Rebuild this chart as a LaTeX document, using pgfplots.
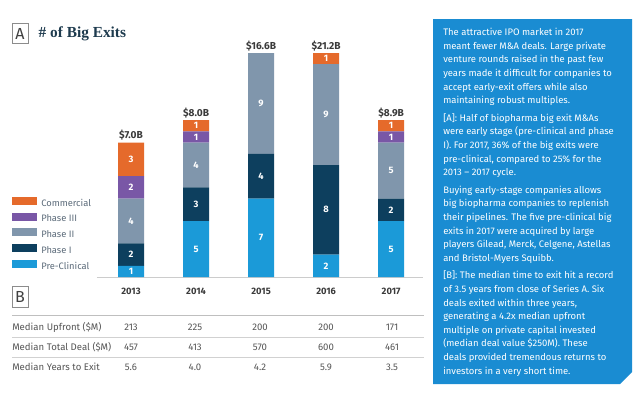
\documentclass[border=0pt]{standalone}
\usepackage{fontspec}
\setmainfont{Fira Sans}
\newfontfamily\titlefont{Liberation Serif}
\usepackage{pgfplots}
\pgfplotsset{compat=1.18}
\definecolor{cCom}{HTML}{E56A2B}
\definecolor{cPthree}{HTML}{7957A6}
\definecolor{cPtwo}{HTML}{8096AC}
\definecolor{cPone}{HTML}{0D3F5E}
\definecolor{cPre}{HTML}{1B9AD8}
\definecolor{panel}{HTML}{1A8CD2}
\definecolor{txt}{HTML}{3A3A3A}
\definecolor{leg}{HTML}{5C6B7A}
\definecolor{titlec}{HTML}{1E3B4E}
\definecolor{tabtxt}{HTML}{555555}
\pgfplotsset{
  geom/.style={at={(72.75pt,-207.75pt)}, anchor=south west,
    scale only axis, width=244.5pt, height=168pt,
    xmin=-0.523, xmax=4.49, ymin=0, ymax=20, clip=false},
}
\begin{document}
\begin{tikzpicture}
\begin{scope}[x=0.75pt,y=-0.75pt]
\path[use as bounding box] (0,0) rectangle (640,393);
\fill[white] (0,0) rectangle (640,393);
% title
\draw[black!45, line width=0.5pt] (12,23) rectangle (28,43);
\node[text=black!75, font=\fontsize{12}{12}\selectfont] at (20,33.5) {A};
\node[anchor=west, text=titlec, font=\titlefont\bfseries\fontsize{11.5}{12}\selectfont] at (34,34) {\# of Big Exits};
% panel
\fill[panel] (433,19) -- (632,19) -- (632,372) -- (620,384) -- (433,384) -- cycle;
\node[anchor=north west, text=white, align=left, inner sep=0pt,
  font=\fontsize{7.1}{10.2}\selectfont] at (443,28) {%
The attractive IPO market in 2017\\
meant fewer M\&A deals. Large private\\
venture rounds raised in the past few\\
years made it difficult for companies to\\
accept early-exit offers while also\\
maintaining robust multiples.\\[3pt]
[A]: Half of biopharma big exit M\&As\\
were early stage (pre-clinical and phase\\
I). For 2017, 36\% of the big exits were\\
pre-clinical, compared to 25\% for the\\
2013 -- 2017 cycle.\\[3pt]
Buying early-stage companies allows\\
big biopharma companies to replenish\\
their pipelines. The five pre-clinical big\\
exits in 2017 were acquired by large\\
players Gilead, Merck, Celgene, Astellas\\
and Bristol-Myers Squibb.\\[3pt]
[B]: The median time to exit hit a record\\
of 3.5 years from close of Series A. Six\\
deals exited within three years,\\
generating a 4.2x median upfront\\
multiple on private capital invested\\
(median deal value \$250M). These\\
deals provided tremendous returns to\\
investors in a very short time.};
% table B
\draw[black!45, line width=0.5pt] (12,286) rectangle (28,307);
\node[text=black!75, font=\fontsize{12}{12}\selectfont] at (20,296.5) {B};
\draw[black!25, line width=0.6pt] (12,315) -- (424,315);
\draw[black!18, line width=0.5pt] (12,337) -- (424,337);
\draw[black!18, line width=0.5pt] (12,357) -- (424,357);
\begin{scope}[every node/.style={text=tabtxt, font=\fontsize{7.2}{8}\selectfont}]
\node[anchor=west, inner sep=0pt] at (12,327) {Median Upfront (\$M)};
\node[anchor=west, inner sep=0pt] at (12,347) {Median Total Deal (\$M)};
\node[anchor=west, inner sep=0pt] at (12,367) {Median Years to Exit};
\foreach \x/\a/\b/\c in {131/213/457/5.6, 195/225/413/4.0, 260/200/570/4.2, 326/200/600/5.9, 392/171/461/3.5}{
  \node at (\x,327) {\a};
  \node at (\x,347) {\b};
  \node at (\x,367) {\c};
}
\end{scope}
\end{scope}

\begin{axis}[geom,
  ybar stacked, bar width=19.5pt,
  axis y line=none, axis x line*=bottom, ytick=\empty,
  x axis line style={draw=black!20, line width=0.6pt, -},
  xtick={0,1,2,3,4}, xticklabels={2013,2014,2015,2016,2017},
  major tick length=0pt,
  xticklabel style={font=\fontsize{7}{8}\selectfont\bfseries, text=txt, yshift=-4.5pt},
  legend style={at={(-0.2607,0.36)}, anchor=north west, draw=none, fill=none,
    inner sep=0pt, font=\fontsize{7}{8}\selectfont, text=leg, row sep=3.4pt,
    nodes={inner sep=0pt, text height=5.2pt, text depth=1.5pt},
    /tikz/every odd column/.append style={column sep=3pt}},
  legend cell align=left, reverse legend,
  legend image code/.code={\fill[#1] (0pt,-0.8pt) rectangle (18.75pt,5.2pt);},
]
\addplot[fill=cPre, draw=none] coordinates {(0,1) (1,5) (2,7) (3,2) (4,5)};
\addlegendentry{Pre-Clinical}
\addplot[fill=cPone, draw=none] coordinates {(0,2) (1,3) (2,4) (3,8) (4,2)};
\addlegendentry{Phase I}
\addplot[fill=cPtwo, draw=none] coordinates {(0,4) (1,4) (2,9) (3,9) (4,5)};
\addlegendentry{Phase II}
\addplot[fill=cPthree, draw=none] coordinates {(0,2) (1,1) (2,0) (3,0) (4,1)};
\addlegendentry{Phase III}
\addplot[fill=cCom, draw=none] coordinates {(0,3) (1,1) (2,0) (3,1) (4,1)};
\addlegendentry{Commercial}
\end{axis}

\begin{axis}[geom, hide axis]
\addplot[only marks, mark=none, nodes near coords, point meta=explicit symbolic,
  every node near coord/.append style={anchor=center, text=white, font=\fontsize{7}{8}\selectfont\bfseries}]
  coordinates {
  (0,0.5)[1] (0,2)[2] (0,5)[4] (0,8)[2] (0,10.5)[3]
  (1,2.5)[5] (1,6.5)[3] (1,10)[4] (1,12.5)[1] (1,13.5)[1]
  (2,3.5)[7] (2,9)[4] (2,15.5)[9]
  (3,1)[2] (3,6)[8] (3,14.5)[9] (3,19.5)[1]
  (4,2.5)[5] (4,6)[2] (4,9.5)[5] (4,12.5)[1] (4,13.5)[1]
  };
\addplot[only marks, mark=none, nodes near coords, point meta=explicit symbolic,
  every node near coord/.append style={anchor=south, inner sep=1.5pt, text=txt, font=\fontsize{7.6}{8}\selectfont\bfseries}]
  coordinates {(0,12)[\$7.0B] (1,14)[\$8.0B] (2,20)[\$16.6B] (3,20)[\$21.2B] (4,14)[\$8.9B]};
\end{axis}
\end{tikzpicture}
\end{document}
